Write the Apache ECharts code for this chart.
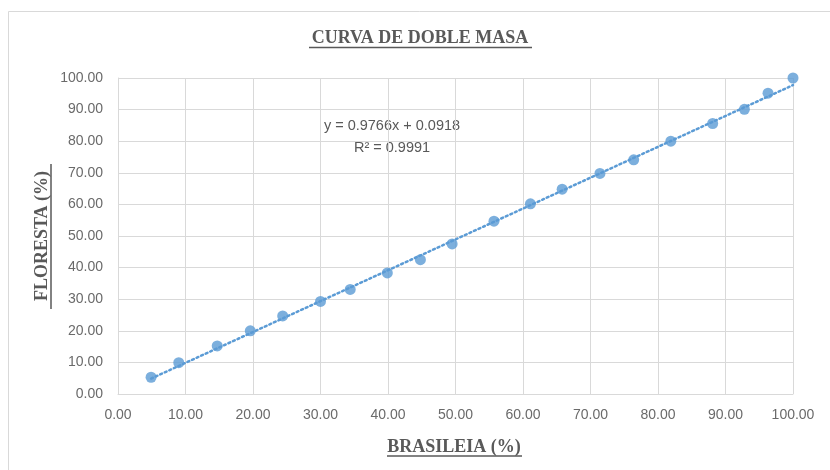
<!DOCTYPE html>
<html>
<head>
<meta charset="utf-8">
<script src="https://cdn.jsdelivr.net/npm/echarts@6/dist/echarts.min.js"></script>
<style>html,body{margin:0;padding:0;background:#fff;}#c{width:830px;height:470px;}</style>
</head>
<body>
<div id="c"></div>
<script>
// Data
const brasileia = [4.9, 9.0, 14.7, 19.6, 24.4, 30.0, 34.4, 39.9, 44.8, 49.5, 55.7, 61.1, 65.8, 71.4, 76.4, 81.9, 88.1, 92.8, 96.3, 100.0];
const floresta  = [5.3, 9.9, 15.2, 20.0, 24.7, 29.3, 33.1, 38.3, 42.5, 47.5, 54.7, 60.2, 64.8, 69.8, 74.1, 80.0, 85.6, 90.1, 95.2, 100.0];
const trendSlope = 0.9766;
const trendIntercept = 0.0918;
const r2 = 0.9991;
const chartTitle = 'CURVA DE DOBLE MASA';
const xTitle = 'BRASILEIA (%)';
const yTitle = 'FLORESTA (%)';

const points = brasileia.map((x, i) => [x, floresta[i]]);
const xStart = Math.min(...brasileia);
const xEnd = 100;
const trend = [[xStart, trendSlope * xStart + trendIntercept], [xEnd, trendSlope * xEnd + trendIntercept]];

const chart = echarts.init(document.getElementById('c'), null, {renderer: 'canvas'});
const blue = '#5B9BD5';
const grey = '#595959';
const serif = '"Liberation Serif", "DejaVu Serif", serif';
const sans = '"Liberation Sans", Arial, sans-serif';

chart.setOption({
  animation: false,
  backgroundColor: '#fff',
  grid: {left: 118, right: 37, top: 78, bottom: 76, containLabel: false},
  xAxis: {
    type: 'value', min: 0, max: 100, interval: 10,
    axisLine: {show: true, lineStyle: {color: '#d9d9d9', width: 1}},
    axisTick: {show: false},
    axisLabel: {formatter: v => v.toFixed(2), color: '#6a6a6a', fontFamily: sans, fontSize: 14, margin: 14},
    splitLine: {show: true, lineStyle: {color: '#d9d9d9', width: 1}}
  },
  yAxis: {
    type: 'value', min: 0, max: 100, interval: 10,
    axisLine: {show: true, lineStyle: {color: '#d9d9d9', width: 1}},
    axisTick: {show: false},
    axisLabel: {formatter: v => v.toFixed(2), color: '#6a6a6a', fontFamily: sans, fontSize: 14, margin: 15},
    splitLine: {show: true, lineStyle: {color: '#d9d9d9', width: 1}}
  },
  series: [
    {
      type: 'line', data: trend, symbol: 'none', silent: true, z: 1,
      lineStyle: {color: blue, width: 2.5, type: [2, 3], cap: 'round'}
    },
    {
      type: 'scatter', data: points, symbol: 'circle', symbolSize: 11, z: 2,
      itemStyle: {color: blue}
    }
  ],
  graphic: [
    {type: 'rect', shape: {x: 8.5, y: 11.5, width: 900, height: 600}, style: {fill: 'none', stroke: '#d9d9d9', lineWidth: 1}, silent: true},
    {type: 'text', x: 420, y: 38, style: {text: chartTitle, font: 'bold 18px ' + serif, fill: grey, textAlign: 'center', textVerticalAlign: 'middle'}},
    {type: 'line', shape: {x1: 309, y1: 47.5, x2: 532, y2: 47.5}, style: {stroke: grey, lineWidth: 1.5}},
    {type: 'text', x: 454, y: 447, style: {text: xTitle, font: 'bold 18px ' + serif, fill: grey, textAlign: 'center', textVerticalAlign: 'middle'}},
    {type: 'line', shape: {x1: 387, y1: 456, x2: 522, y2: 456}, style: {stroke: grey, lineWidth: 1.5}},
    {type: 'text', x: 42, y: 236, rotation: Math.PI / 2, style: {text: yTitle, font: 'bold 18px ' + serif, fill: grey, textAlign: 'center', textVerticalAlign: 'middle'}},
    {type: 'line', shape: {x1: 51, y1: 164, x2: 51, y2: 309}, style: {stroke: grey, lineWidth: 1.5}},
    {type: 'text', x: 392, y: 126, style: {text: 'y = ' + trendSlope + 'x + ' + trendIntercept, font: '14.5px ' + sans, fill: grey, textAlign: 'center', textVerticalAlign: 'middle'}},
    {type: 'text', x: 392, y: 148, style: {text: 'R² = ' + r2, font: '14.5px ' + sans, fill: grey, textAlign: 'center', textVerticalAlign: 'middle'}}
  ]
});
</script>
</body>
</html>
